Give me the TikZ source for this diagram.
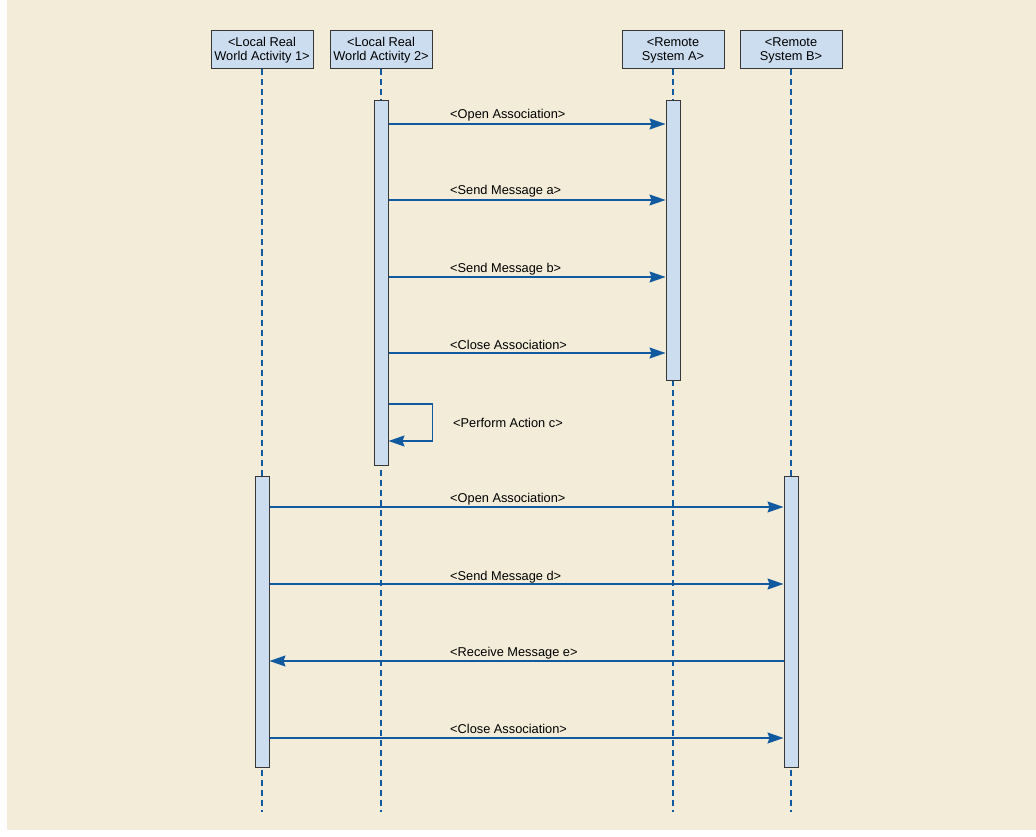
\documentclass[tikz,border=0pt]{standalone}
\usepackage{fontspec}
\setmainfont{Liberation Sans}
\usepackage{xcolor}
\usetikzlibrary{arrows.meta}
\definecolor{bgbeige}{RGB}{242,236,216}
\definecolor{boxblue}{RGB}{204,221,240}
\definecolor{msgblue}{RGB}{18,90,160}
\definecolor{edgegray}{RGB}{55,55,55}
\begin{document}
\begin{tikzpicture}[x=1pt, y=-1pt,
                head/.style={rectangle, draw=edgegray, fill=boxblue, line width=1pt,
                    minimum width=102pt, minimum height=38pt, align=center, inner sep=1pt,
                    font=\fontsize{12.8}{14}\selectfont},
                act/.style={rectangle, draw=edgegray, fill=boxblue, line width=1pt,
                    minimum width=14pt, inner sep=0pt},
                life/.style={msgblue, line width=1.4pt, dash pattern=on 6pt off 4pt},
                msg/.style={msgblue, line width=1.4pt, -{Stealth[length=16pt, width=11pt, inset=2pt]}},
                lbl/.style={anchor=base west, inner sep=0pt, font=\fontsize{12.8}{14}\selectfont}]
                \useasboundingbox (0,0) rectangle (1036,837);
                \fill[white] (0,0) rectangle (1036,837);
                \fill[bgbeige] (7,0) rectangle (1036,830);
                % lifeline heads
                \node [head] (la1) at (262,50) {<Local Real\\World Activity 1>};
                \node [head] (la2) at (381,50) {<Local Real\\World Activity 2>};
                \node [head] (rsa) at (673,50) {<Remote\\System A>};
                \node [head] (rsb) at (791,50) {<Remote\\System B>};
                \coordinate (bot) at (0,812);
                \foreach \n in {la1,la2,rsa,rsb}
                    \draw [life] (\n.south) -- (\n |- bot);
                % activation bars
                \node [act, minimum height=364pt] (act2) at (381,283) {};
                \node [act, minimum height=279pt] (actA) at (673,240.5) {};
                \node [act, minimum height=291pt] (act1) at (262,621.5) {};
                \node [act, minimum height=291pt] (actB) at (791,621.5) {};
                % message levels
                \coordinate (m1) at (0,124);
                \coordinate (m2) at (0,200);
                \coordinate (m3) at (0,277);
                \coordinate (m4) at (0,353);
                \coordinate (s1) at (0,404);
                \coordinate (s2) at (0,441);
                \coordinate (m5) at (0,507);
                \coordinate (m6) at (0,584);
                \coordinate (m7) at (0,661);
                \coordinate (m8) at (0,738);
                \draw [msg] (act2.east |- m1) -- (actA.west |- m1);
                \draw [msg] (act2.east |- m2) -- (actA.west |- m2);
                \draw [msg] (act2.east |- m3) -- (actA.west |- m3);
                \draw [msg] (act2.east |- m4) -- (actA.west |- m4);
                \draw [msg] (act2.east |- s1) -- ++(44,0) |- (act2.east |- s2);
                \draw [msg] (act1.east |- m5) -- (actB.west |- m5);
                \draw [msg] (act1.east |- m6) -- (actB.west |- m6);
                \draw [msg] (actB.west |- m7) -- (act1.east |- m7);
                \draw [msg] (act1.east |- m8) -- (actB.west |- m8);
                % message labels
                \node [lbl] (t1) at (450,119) {<Open Association>};
                \node [lbl] (t2) at (450,195) {<Send Message a>};
                \node [lbl] (t3) at (450,272) {<Send Message b>};
                \node [lbl] (t4) at (450,349.5) {<Close Association>};
                \node [lbl] (t5) at (453,427.5) {<Perform Action c>};
                \node [lbl] (t6) at (450,502) {<Open Association>};
                \node [lbl] (t7) at (450,580) {<Send Message d>};
                \node [lbl] (t8) at (450,656.5) {<Receive Message e>};
                \node [lbl] (t9) at (450,733.5) {<Close Association>};
\end{tikzpicture}
\end{document}
